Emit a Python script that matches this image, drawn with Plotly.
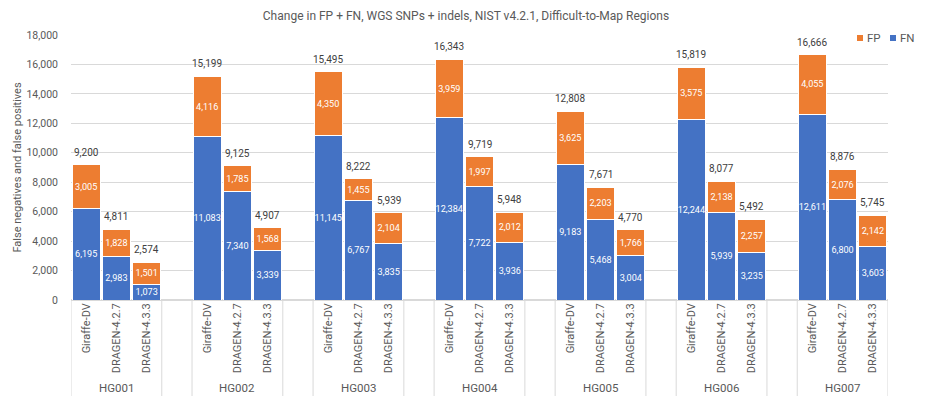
import plotly.graph_objects as go

groups = ["HG001", "HG002", "HG003", "HG004", "HG005", "HG006", "HG007"]
callers = ["Giraffe-DV", "DRAGEN-4.2.7", "DRAGEN-4.3.3"]

fn_values = [
    [6195, 2983, 1073],
    [11083, 7340, 3339],
    [11145, 6767, 3835],
    [12384, 7722, 3936],
    [9183, 5468, 3004],
    [12244, 5939, 3235],
    [12611, 6800, 3603],
]
fp_values = [
    [3005, 1828, 1501],
    [4116, 1785, 1568],
    [4350, 1455, 2104],
    [3959, 1997, 2012],
    [3625, 2203, 1766],
    [3575, 2138, 2257],
    [4055, 2076, 2142],
]
totals = [
    [9200, 4811, 2574],
    [15199, 9125, 4907],
    [15495, 8222, 5939],
    [16343, 9719, 5948],
    [12808, 7671, 4770],
    [15819, 8077, 5492],
    [16666, 8876, 5745],
]
legend_items = ["FP", "FN"]

FONT = "Roboto, sans-serif"
BLUE = "#4472C4"
ORANGE = "#ED7D31"
GRID = "#D9D9D9"
TXT = "#595959"

W, H = 932, 398
ML, MR, MT, MB = 71, 44, 35, 98
PW, PH = W - ML - MR, H - MT - MB


def px_x(p):
    return (p - ML) / PW


def px_y(p):
    return (H - MB - p) / PH


# positions: 4 slots per group (3 bars + a blank slot between groups)
xs, fn, fp, tot, labels = [], [], [], [], []
for g in range(len(groups)):
    for c in range(len(callers)):
        xs.append(4 * g + c)
        fn.append(fn_values[g][c])
        fp.append(fp_values[g][c])
        tot.append(totals[g][c])
        labels.append(callers[c])

fig = go.Figure()
common = dict(
    x=xs, width=0.92, texttemplate="%{y:,}", textposition="inside",
    insidetextanchor="middle", textangle=0, constraintext="none",
    textfont=dict(color="white", size=9.1, family=FONT),
    marker_line=dict(color="white", width=1), showlegend=False,
)
fig.add_trace(go.Bar(name="FN", y=fn, marker_color=BLUE, **common))
fig.add_trace(go.Bar(name="FP", y=fp, marker_color=ORANGE, **common))

annotations = []
# totals above the stacks
for xv, tv in zip(xs, tot):
    annotations.append(dict(x=xv, y=tv, xref="x", yref="y", text=f"{tv:,}",
                            showarrow=False, yanchor="bottom", yshift=5,
                            font=dict(size=10, color="#404040", family=FONT)))

# separator lines below axis
shapes = []
for g in range(len(groups)):
    for xv in (4 * g - 0.5, 4 * g + 2.5):
        shapes.append(dict(type="line", xref="x", yref="paper", x0=xv, x1=xv,
                           y0=0, y1=px_y(396), line=dict(color=GRID, width=1)))
for g, name in enumerate(groups):
    annotations.append(dict(x=4 * g + 1, y=px_y(388), xref="x", yref="paper",
                            text=name, showarrow=False, yanchor="middle",
                            font=dict(size=11.5, color=TXT, family=FONT)))

# legend keys (small squares with text, as in the reference)
for name, col, sx in ((legend_items[0], ORANGE, 857), (legend_items[1], BLUE, 890)):
    shapes.append(dict(type="rect", xref="paper", yref="paper",
                       x0=px_x(sx), x1=px_x(sx + 6), y0=px_y(41), y1=px_y(35),
                       fillcolor=col, line=dict(width=0)))
    annotations.append(dict(x=px_x(sx + 8), y=px_y(38), xref="paper", yref="paper",
                            text=name, showarrow=False, xanchor="left", yanchor="middle",
                            font=dict(size=11.5, color=TXT, family=FONT)))

fig.update_layout(
    barmode="stack",
    width=W, height=H,
    margin=dict(l=ML, r=MR, t=MT, b=MB),
    plot_bgcolor="white", paper_bgcolor="white",
    font=dict(family=FONT, color=TXT, size=11),
    title=dict(text="Change in FP + FN, WGS SNPs + indels, NIST v4.2.1, Difficult-to-Map Regions",
               x=0.5, xanchor="center", y=1 - 16 / H, yanchor="middle",
               font=dict(size=12, color=TXT, family=FONT)),
    shapes=shapes, annotations=annotations,
    showlegend=False,
)
fig.update_xaxes(range=[-0.5, 26.5], tickvals=xs, ticktext=labels, tickangle=-90,
                 showgrid=False, showline=False, zeroline=False, ticks="",
                 tickfont=dict(size=11, color=TXT, family=FONT))
fig.update_yaxes(range=[0, 18000], dtick=2000, tickformat=",", showgrid=True,
                 gridcolor=GRID, gridwidth=1, zeroline=True, zerolinecolor=GRID,
                 ticklabelstandoff=12,
                 title=dict(text="False negatives and false positives",
                            font=dict(size=11, color=TXT, family=FONT), standoff=2),
                 tickfont=dict(size=10.5, color=TXT, family=FONT))

fig.write_html("out.html", config={"displayModeBar": False},
               post_script="document.body.style.margin='0';")
